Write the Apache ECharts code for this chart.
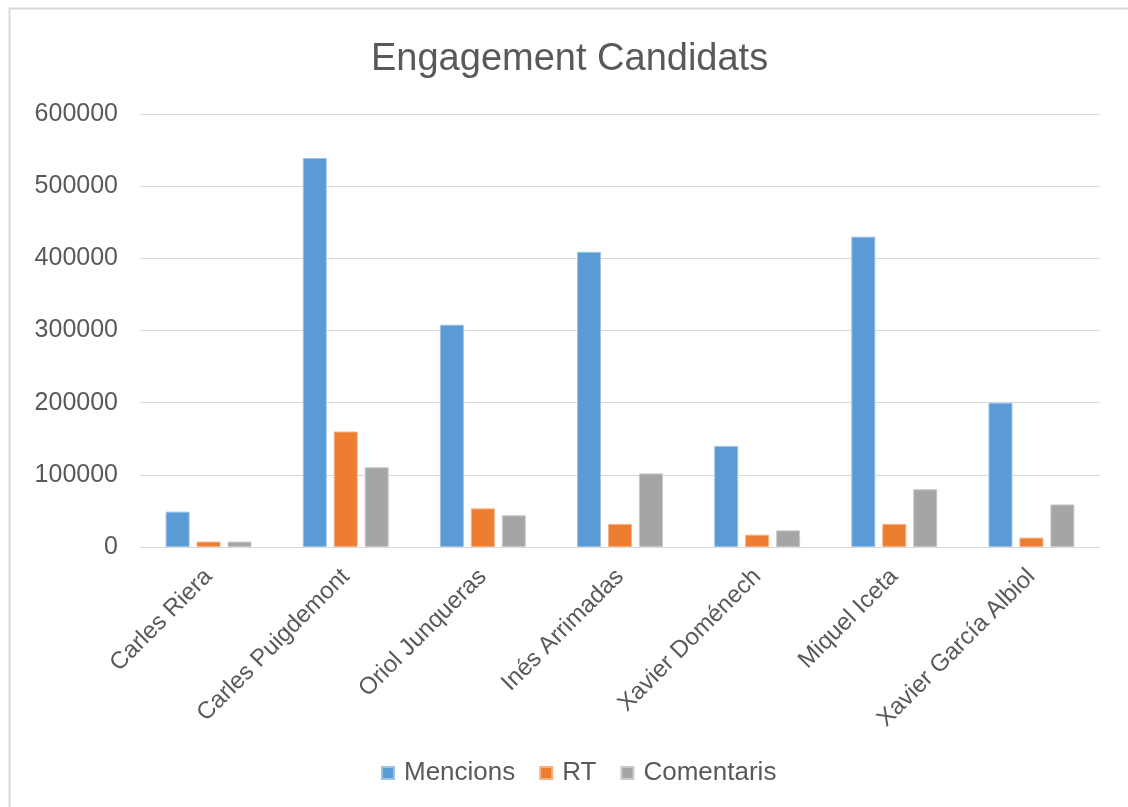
<!DOCTYPE html>
<html>
<head>
<meta charset="utf-8">
<script src="https://cdn.jsdelivr.net/npm/echarts@6/dist/echarts.min.js"></script>
<style>
  html, body { margin: 0; padding: 0; background: #ffffff; }
  #chart { width: 1128px; height: 807px; }
</style>
</head>
<body>
<div id="chart"></div>
<script>
// Candidates shown along the category axis
const candidats = ['Carles Riera', 'Carles Puigdemont', 'Oriol Junqueras', 'Inés Arrimadas',
                   'Xavier Doménech', 'Miquel Iceta', 'Xavier García Albiol'];

// Engagement figures per candidate
const mencions    = [49000, 539000, 308000, 409000, 140000, 430000, 200000];
const rt          = [7500, 160000, 53500, 32000, 17000, 32000, 13000];
const comentaris  = [7500, 110500, 44000, 102000, 23000, 80000, 59000];

const seriesNames = ['Mencions', 'RT', 'Comentaris'];
const yTicks = [0, 100000, 200000, 300000, 400000, 500000, 600000];

const FONT = 'Liberation Sans';
const TEXT = '#595959';

const colors = ['#5B9BD5', '#ED7D31', '#A5A5A5'];
const borders = ['#9DC3E6', '#F4B183', '#C9C9C9'];

const chart = echarts.init(document.getElementById('chart'));

function barSeries(name, data, i) {
  return {
    name: name,
    type: 'bar',
    data: data,
    barWidth: 24,
    barGap: '29%',
    itemStyle: { color: colors[i], borderColor: borders[i], borderWidth: 1 }
  };
}

chart.setOption({
  animation: false,
  backgroundColor: '#ffffff',
  graphic: [{
    type: 'rect',
    shape: { x: 9.5, y: 8.5, width: 1140, height: 820 },
    style: { fill: 'none', stroke: '#D9D9D9', lineWidth: 2 },
    silent: true
  }],
  title: {
    text: 'Engagement Candidats',
    left: 366,
    top: 36,
    textStyle: { fontFamily: FONT, fontSize: 38, fontWeight: 'normal', color: TEXT }
  },
  legend: {
    data: seriesNames,
    bottom: 16,
    left: 376,
    itemWidth: 12,
    itemHeight: 12,
    itemGap: 24,
    icon: 'rect',
    textStyle: { fontFamily: FONT, fontSize: 26, color: TEXT, padding: [0, 0, 0, 5] }
  },
  grid: { left: 140, right: 28, top: 114, bottom: 260 },
  xAxis: {
    type: 'category',
    data: candidats,
    axisTick: { show: false },
    axisLine: { lineStyle: { color: '#D9D9D9', width: 1 } },
    axisLabel: {
      rotate: 45,
      interval: 0,
      margin: 26,
      fontFamily: FONT,
      fontSize: 24,
      color: TEXT
    }
  },
  yAxis: {
    type: 'value',
    min: yTicks[0],
    max: yTicks[yTicks.length - 1],
    interval: 100000,
    axisLine: { show: false },
    axisTick: { show: false },
    splitLine: { lineStyle: { color: '#D9D9D9', width: 1 } },
    axisLabel: {
      margin: 22,
      fontFamily: FONT,
      fontSize: 25,
      color: TEXT,
      formatter: v => String(v)
    }
  },
  series: [
    barSeries(seriesNames[0], mencions, 0),
    barSeries(seriesNames[1], rt, 1),
    barSeries(seriesNames[2], comentaris, 2)
  ]
});
</script>
</body>
</html>
